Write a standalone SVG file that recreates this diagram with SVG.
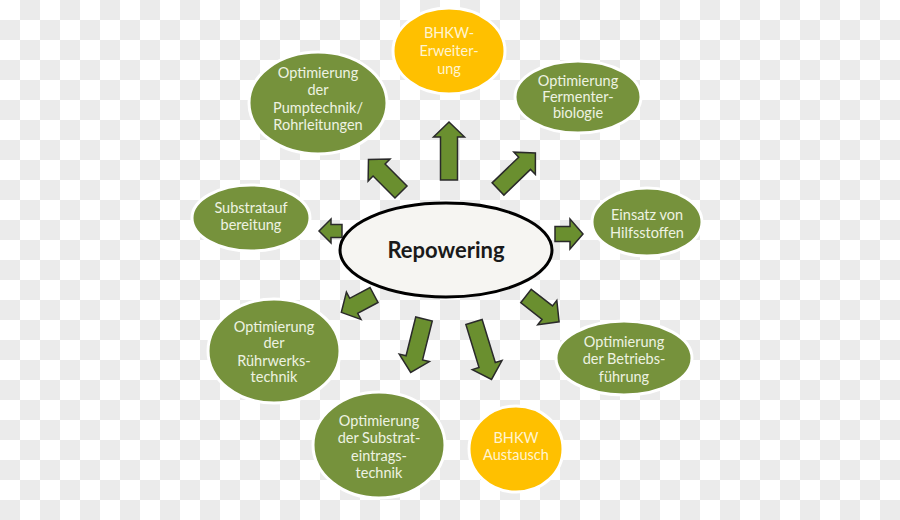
<svg xmlns="http://www.w3.org/2000/svg" width="900" height="520" viewBox="0 0 900 520">
<defs>
<pattern id="checker" width="40" height="40" patternUnits="userSpaceOnUse">
<rect width="40" height="40" fill="#ffffff"/>
<rect x="20" y="0" width="20" height="20" fill="#ebebeb"/>
<rect x="0" y="20" width="20" height="20" fill="#ebebeb"/>
</pattern>
</defs>
<style>
.g{fill:#76923c;stroke:#ffffff;stroke-width:3}
.y{fill:#ffc000;stroke:#ffffff;stroke-width:3}
.t{font-family:Lato,"Liberation Sans",sans-serif;font-size:14.5px;text-anchor:middle;fill:#eef2e2}
.ty{fill:#fff4d0}
.a{fill:#6a8f2f;stroke:#2a2a2a;stroke-width:1.5;stroke-linejoin:miter}
.c{fill:#f6f5f2;stroke:#000000;stroke-width:3}
.ct{font-family:Lato,"Liberation Sans",sans-serif;font-size:22px;font-weight:bold;text-anchor:middle;fill:#1a1a1a}
</style>
<rect width="900" height="520" fill="url(#checker)"/>
<g id="connectors">
<polygon class="a" transform="translate(449,180) rotate(-90)" points="0,-8.5 43,-8.5 43,-15.5 58,0 43,15.5 43,8.5 0,8.5"/>
<polygon class="a" transform="translate(401,192) rotate(-135)" points="0,-8.5 31,-8.5 31,-15.5 46,0 31,15.5 31,8.5 0,8.5"/>
<polygon class="a" transform="translate(498,189) rotate(-44)" points="0,-8.5 37,-8.5 37,-15.5 52,0 37,15.5 37,8.5 0,8.5"/>
<polygon class="a" transform="translate(555,234) rotate(0)" points="0,-7.5 15,-7.5 15,-15 28,0 15,15 15,7.5 0,7.5"/>
<polygon class="a" transform="translate(342,231) rotate(180)" points="0,-6.5 11,-6.5 11,-12 23,0 11,12 11,6.5 0,6.5"/>
<polygon class="a" transform="translate(374,295) rotate(152)" points="0,-8.5 23,-8.5 23,-15.5 37,0 23,15.5 23,8.5 0,8.5"/>
<polygon class="a" transform="translate(424,319) rotate(104)" points="0,-8.5 40,-8.5 40,-15.5 55,0 40,15.5 40,8.5 0,8.5"/>
<polygon class="a" transform="translate(474,322) rotate(73)" points="0,-8.5 45,-8.5 45,-15.5 60,0 45,15.5 45,8.5 0,8.5"/>
<polygon class="a" transform="translate(526,296) rotate(38)" points="0,-8.5 27,-8.5 27,-15.5 42,0 27,15.5 27,8.5 0,8.5"/>
</g>
<g id="repowering">
<ellipse class="c" cx="446" cy="250" rx="106" ry="47"/>
<text class="ct" x="446" y="258">Repowering</text>
</g>
<g id="bhkw-erweiterung">
<ellipse class="y" cx="449" cy="51" rx="56" ry="43"/>
<text class="t ty" x="449" y="38">BHKW-</text>
<text class="t ty" x="449" y="56">Erweiter-</text>
<text class="t ty" x="449" y="74">ung</text>
</g>
<g id="pumptechnik">
<ellipse class="g" cx="318" cy="103" rx="69" ry="51"/>
<text class="t" x="318" y="78">Optimierung</text>
<text class="t" x="318" y="95">der</text>
<text class="t" x="318" y="113">Pumptechnik/</text>
<text class="t" x="318" y="130">Rohrleitungen</text>
</g>
<g id="fermenterbiologie">
<ellipse class="g" cx="578" cy="97" rx="63" ry="36"/>
<text class="t" x="578" y="86">Optimierung</text>
<text class="t" x="578" y="102">Fermenter-</text>
<text class="t" x="578" y="118">biologie</text>
</g>
<g id="substrataufbereitung">
<ellipse class="g" cx="251" cy="218" rx="59" ry="33"/>
<text class="t" x="251" y="213">Substratauf</text>
<text class="t" x="251" y="230">bereitung</text>
</g>
<g id="hilfsstoffe">
<ellipse class="g" cx="647" cy="222" rx="55" ry="34"/>
<text class="t" x="647" y="220">Einsatz von</text>
<text class="t" x="647" y="238">Hilfsstoffen</text>
</g>
<g id="ruehrwerkstechnik">
<ellipse class="g" cx="274" cy="351" rx="66" ry="52"/>
<text class="t" x="274" y="332">Optimierung</text>
<text class="t" x="274" y="348">der</text>
<text class="t" x="274" y="366">Rührwerks-</text>
<text class="t" x="274" y="382">technik</text>
</g>
<g id="betriebsfuehrung">
<ellipse class="g" cx="624" cy="358" rx="68" ry="37"/>
<text class="t" x="624" y="347">Optimierung</text>
<text class="t" x="624" y="364">der Betriebs-</text>
<text class="t" x="624" y="382">führung</text>
</g>
<g id="substrateintragstechnik">
<ellipse class="g" cx="379" cy="445" rx="66" ry="53"/>
<text class="t" x="379" y="426">Optimierung</text>
<text class="t" x="379" y="443">der Substrat-</text>
<text class="t" x="379" y="461">eintrags-</text>
<text class="t" x="379" y="478">technik</text>
</g>
<g id="bhkw-austausch">
<ellipse class="y" cx="516" cy="449" rx="47" ry="43"/>
<text class="t ty" x="516" y="443">BHKW</text>
<text class="t ty" x="516" y="460">Austausch</text>
</g>
</svg>
